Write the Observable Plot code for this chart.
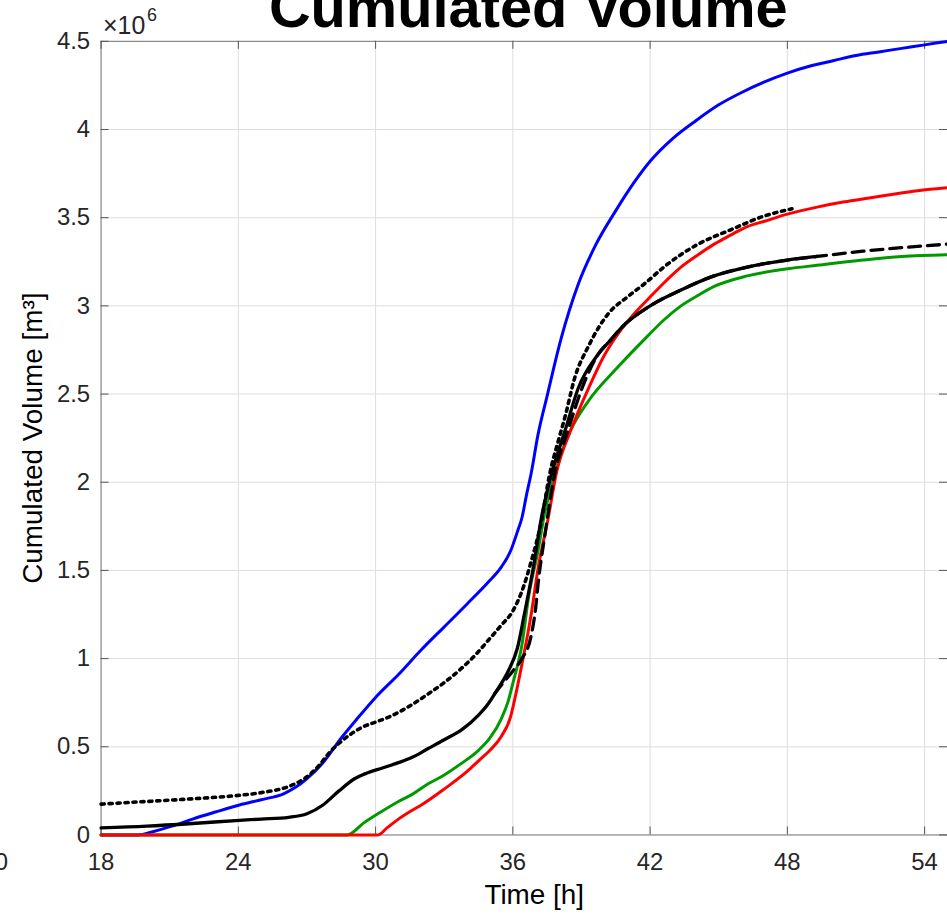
<!DOCTYPE html>
<html><head><meta charset="utf-8">
<script src="https://cdn.jsdelivr.net/npm/d3@7"></script>
<script src="https://cdn.jsdelivr.net/npm/@observablehq/plot@0.6"></script>
<style>html,body{margin:0;padding:0;overflow:hidden;background:#fff}</style>
</head><body><div id="chart"></div>
<script>
// ---- data (time [h], cumulated volume ×10^6 m³) ----
const titleText = "Cumulated Volume";
const xLabel = "Time [h]";
const yLabel = "Cumulated Volume [m³]";
const xTicks = [18, 24, 30, 36, 42, 48, 54];
const yTicks = [0, 0.5, 1, 1.5, 2, 2.5, 3, 3.5, 4, 4.5];
const xDomain = [18, 55];
const yDomain = [0, 4.5];

const blueSeries = [[18,0],[19.6,0],[20.3,0.02],[21.1,0.05],[22,0.09],[23,0.13],[24.05,0.17],[25,0.2],[26,0.235],[26.5,0.27],[27,0.32],[27.7,0.41],[28.5,0.55],[29.2,0.66],[30,0.78],[31,0.91],[32,1.05],[33,1.18],[34,1.31],[34.9,1.43],[35.5,1.52],[35.9,1.61],[36.2,1.72],[36.4,1.8],[36.6,1.93],[36.8,2.05],[37.1,2.27],[37.5,2.49],[38.1,2.81],[38.85,3.12],[39.6,3.34],[40.5,3.54],[41.3,3.7],[42,3.82],[43,3.95],[44,4.05],[45,4.14],[46,4.21],[47,4.27],[48,4.32],[49,4.36],[50,4.39],[51,4.42],[52,4.44],[53,4.46],[54,4.48],[55,4.5]];

const redSeries = [[18,0],[30.1,0],[30.5,0.04],[31,0.09],[31.6,0.14],[32,0.17],[33,0.26],[34,0.36],[34.5,0.42],[35,0.48],[35.5,0.56],[35.9,0.67],[36.1,0.78],[36.4,0.97],[36.8,1.25],[37.1,1.51],[37.55,1.8],[37.9,2.05],[38.55,2.3],[39.3,2.53],[40,2.72],[40.7,2.86],[41.2,2.94],[42,3.05],[42.6,3.13],[43.35,3.22],[44.1,3.29],[44.8,3.35],[45.5,3.4],[46.25,3.45],[47,3.48],[48,3.52],[49.3,3.56],[50.5,3.59],[51.5,3.61],[52.5,3.63],[53.5,3.65],[55,3.67]];

const greenSeries = [[18,0],[28.75,0],[29.5,0.07],[30.1,0.12],[31,0.19],[31.6,0.23],[32.3,0.29],[33,0.34],[33.8,0.41],[34.5,0.48],[35,0.55],[35.5,0.66],[35.8,0.76],[36,0.86],[36.4,1.08],[36.7,1.36],[37.1,1.61],[37.4,1.83],[37.7,1.98],[38,2.12],[38.4,2.26],[39.3,2.46],[40.5,2.64],[41.9,2.83],[42.6,2.92],[43.35,3],[44.1,3.06],[44.8,3.11],[46.25,3.17],[48,3.21],[49.3,3.23],[51.3,3.26],[53,3.28],[55,3.29]];

const blackSeries = [[18,0.04],[20,0.05],[22,0.065],[24.05,0.083],[25,0.09],[26.2,0.1],[27,0.12],[27.7,0.17],[28.4,0.25],[29.1,0.32],[29.6,0.35],[30.3,0.38],[31,0.41],[31.6,0.44],[32.3,0.49],[33,0.54],[33.8,0.6],[34.5,0.68],[34.9,0.74],[35.3,0.82],[35.8,0.93],[36.2,1.06],[36.5,1.25],[36.9,1.52],[37.25,1.8],[37.7,2.05],[38.3,2.3],[38.85,2.53],[39.7,2.72],[40.3,2.81],[40.7,2.87],[42,3],[43.35,3.09],[44.8,3.17],[46.25,3.22],[48,3.26],[49.3,3.28]];

const dashedSeries = [[35.2,0.8],[35.5,0.85],[36,0.93],[36.4,1],[36.8,1.13],[37,1.29],[37.1,1.42],[37.4,1.7],[37.85,2.06],[38.3,2.25],[39.2,2.59],[39.7,2.72],[40.3,2.81],[40.7,2.87],[42,3],[43.35,3.09],[44.8,3.17],[46.25,3.22],[48,3.26],[49.3,3.28],[51.3,3.31],[53,3.33],[55,3.35]];

const dottedSeries = [[18,0.175],[20,0.19],[22,0.205],[24.05,0.225],[25,0.24],[26.2,0.275],[27,0.33],[27.5,0.39],[28,0.47],[28.4,0.52],[28.9,0.57],[29.4,0.61],[30,0.64],[30.6,0.67],[31.6,0.74],[32.3,0.8],[33.06,0.87],[33.8,0.95],[34.5,1.04],[34.9,1.1],[35.5,1.19],[36,1.27],[36.5,1.42],[36.8,1.55],[37.25,1.78],[37.6,2.04],[38,2.24],[38.3,2.38],[38.7,2.59],[39.3,2.77],[40.2,2.96],[41,3.05],[41.8,3.13],[42.6,3.22],[44.1,3.35],[45.5,3.43],[47,3.51],[48.2,3.55]];

const font = "'Liberation Sans', Arial, Helvetica, sans-serif";
const lineOpts = {x: d => d[0], y: d => d[1], curve: "monotone-x"};

const chart = Plot.plot({
  width: 951,
  height: 916,
  marginTop: 41,
  marginBottom: 78,
  marginLeft: 101,
  marginRight: 0,
  style: {fontFamily: font, background: "white", overflow: "visible"},
  x: {domain: xDomain},
  y: {domain: yDomain},
  marks: [
    Plot.gridX(xTicks, {stroke: "#dedede", strokeOpacity: 1}),
    Plot.gridY(yTicks, {stroke: "#dedede", strokeOpacity: 1}),
    Plot.frame({stroke: "#7a7a7a"}),
    // inward tick marks
    Plot.ruleX(xTicks, {x: d => d, y1: yDomain[0], y2: yDomain[0], insetBottom: 8, stroke: "#555"}),
    Plot.ruleX(xTicks, {x: d => d, y1: yDomain[1], y2: yDomain[1], insetBottom: -8, stroke: "#555"}),
    Plot.ruleY(yTicks, {y: d => d, x1: xDomain[0], x2: xDomain[0], insetRight: -8, stroke: "#555"}),
    Plot.ruleY(yTicks, {y: d => d, x1: xDomain[1], x2: xDomain[1], insetLeft: -8, stroke: "#555"}),
    // series
    Plot.line(blueSeries, {...lineOpts, stroke: "#0000ff", strokeWidth: 3}),
    Plot.line(greenSeries, {...lineOpts, stroke: "#009a00", strokeWidth: 3}),
    Plot.line(redSeries, {...lineOpts, stroke: "#ff0000", strokeWidth: 3}),
    Plot.line(dashedSeries, {...lineOpts, stroke: "#000", strokeWidth: 3.3, strokeDasharray: "12,7"}),
    Plot.line(blackSeries, {...lineOpts, stroke: "#000", strokeWidth: 3.3}),
    Plot.line(dottedSeries, {...lineOpts, stroke: "#000", strokeWidth: 3.6, strokeDasharray: "3.2,4.8"}),
    // axes
    Plot.axisX(xTicks, {tickSize: 0, tickPadding: 18, fontSize: 24, color: "#262626", label: null}),
    Plot.axisY(yTicks, {tickSize: 0, tickPadding: 11, fontSize: 24, color: "#262626", label: null, tickFormat: d => String(d)}),
    // axis labels
    Plot.text([xLabel], {text: d => d, frameAnchor: "bottom", dx: 10, dy: 49, lineAnchor: "top", fontSize: 28, fill: "#000"}),
    Plot.text([yLabel], {text: d => d, frameAnchor: "left", textAnchor: "middle", dx: -68, dy: 0, rotate: -90, lineAnchor: "middle", fontSize: 28, fill: "#000"}),
    // exponent
    Plot.text(["×10"], {text: d => d, frameAnchor: "top-left", textAnchor: "start", lineAnchor: "middle", dx: 2, dy: -15, fontSize: 25, fill: "#262626"}),
    Plot.text(["6"], {text: d => d, frameAnchor: "top-left", textAnchor: "start", lineAnchor: "middle", dx: 46, dy: -26, fontSize: 18, fill: "#262626"}),
    // title
    Plot.text([titleText], {text: d => d, frameAnchor: "top", dx: 4, dy: -33, lineAnchor: "middle", fontSize: 58, fontWeight: "bold", fill: "#000"}),
    // stray neighbouring tick label at the far left
    Plot.text(["0"], {text: d => d, frameAnchor: "bottom-left", dx: -100, dy: 27, textAnchor: "middle", lineAnchor: "middle", fontSize: 24, fill: "#262626"})
  ]
});
document.getElementById("chart").appendChild(chart);
</script>
</body></html>
